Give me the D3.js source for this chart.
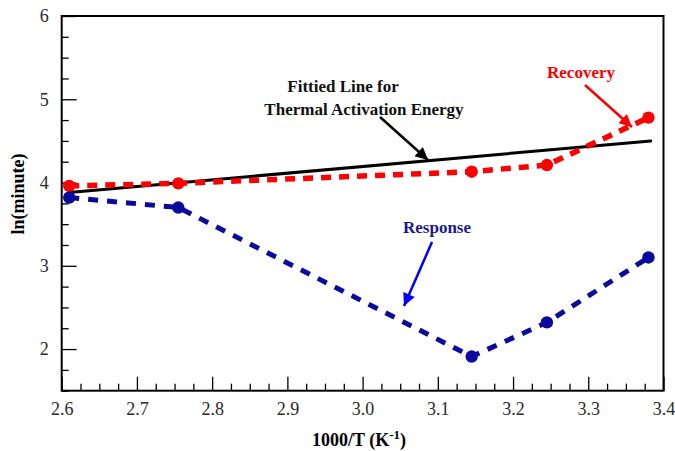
<!DOCTYPE html>
<html><head><meta charset="utf-8">
<script src="https://cdn.jsdelivr.net/npm/d3@7"></script>
<style>body{margin:0;background:#fff}svg{display:block}
.serif, .serif text{font-family:"Liberation Serif","Tinos","DejaVu Serif",serif !important;}
</style>
</head><body>
<svg id="c" width="675" height="451" class="serif"></svg>
<script>
const xVals = [2.61, 2.755, 3.145, 3.245, 3.38];
const recovery = [3.96, 3.99, 4.13, 4.21, 4.78];
const response = [3.82, 3.70, 1.91, 2.32, 3.10];
const fitX = [2.61, 3.383];
const fitY = [3.88, 4.50];
const xTicks = [2.6, 2.7, 2.8, 2.9, 3.0, 3.1, 3.2, 3.3, 3.4];
const yTicks = [2, 3, 4, 5, 6];

const svg = d3.select("#c");
const L = 61.7, R = 663.5, T = 16, B = 390.7;
const x = d3.scaleLinear().domain([2.6, 3.4]).range([L, R]);
const y = d3.scaleLinear().domain([1.5, 6]).range([B, T]);
const font = '"Liberation Serif", "DejaVu Serif", serif';

const xMinor = d3.range(2.6, 3.4001, 0.025).filter(v => Math.abs(v*10 - Math.round(v*10)) > 1e-6);
const yMinor = d3.range(1.5, 6.0001, 0.25).filter(v => Math.abs(v - Math.round(v)) > 1e-6);

const g = svg.append("g");
g.append("g").attr("transform", `translate(0,${B})`)
  .call(d3.axisBottom(x).tickValues(xTicks).tickSize(-14).tickFormat(d3.format(".1f")).tickPadding(12))
  .attr("font-family", font).attr("font-size", 18)
  .call(a => a.select(".domain").remove())
  .call(a => a.selectAll("line").attr("stroke", "#000").attr("stroke-width", 1.3))
  .call(a => a.selectAll("text").attr("fill", "#2a2a2a"));
g.append("g").attr("transform", `translate(0,${B})`)
  .call(d3.axisBottom(x).tickValues(xMinor).tickSize(-7).tickFormat(""))
  .call(a => a.select(".domain").remove())
  .call(a => a.selectAll("line").attr("stroke", "#000").attr("stroke-width", 1.3));
g.append("g").attr("transform", `translate(${L},0)`)
  .call(d3.axisLeft(y).tickValues(yTicks).tickSize(-15).tickFormat(d3.format("d")).tickPadding(13))
  .attr("font-family", font).attr("font-size", 18)
  .call(a => a.select(".domain").remove())
  .call(a => a.selectAll("line").attr("stroke", "#000").attr("stroke-width", 1.3))
  .call(a => a.selectAll("text").attr("fill", "#2a2a2a"));
g.append("g").attr("transform", `translate(${L},0)`)
  .call(d3.axisLeft(y).tickValues(yMinor).tickSize(-7).tickFormat(""))
  .call(a => a.select(".domain").remove())
  .call(a => a.selectAll("line").attr("stroke", "#000").attr("stroke-width", 1.3));

svg.append("rect").attr("x", L).attr("y", T).attr("width", R - L).attr("height", B - T)
  .attr("fill", "none").attr("stroke", "#000").attr("stroke-width", 2);

svg.append("text").attr("x", 359).attr("y", 446).attr("text-anchor", "middle")
  .attr("font-family", font).attr("font-size", 18).attr("font-weight", "bold")
  .html('1000/T (K<tspan dy="-7" font-size="13">-1</tspan><tspan dy="7">)</tspan>');
svg.append("text").attr("transform", "translate(24,194) rotate(-90)").attr("text-anchor", "middle")
  .attr("font-family", font).attr("font-size", 18).attr("font-weight", "bold").text("ln(minute)");

const line = d3.line().x(d => x(d[0])).y(d => y(d[1]));

svg.append("path").datum(fitX.map((v, i) => [v, fitY[i]])).attr("d", line)
  .attr("fill", "none").attr("stroke", "#000").attr("stroke-width", 3).attr("stroke-linecap", "round");

const red = "#ff0000", navy = "#0a0a9e";
svg.append("path").datum(xVals.map((v, i) => [v, recovery[i]])).attr("d", line)
  .attr("fill", "none").attr("stroke", red).attr("stroke-width", 5.5).attr("stroke-dasharray", "10,8");
svg.append("path").datum(xVals.map((v, i) => [v, response[i]])).attr("d", line)
  .attr("fill", "none").attr("stroke", navy).attr("stroke-width", 5).attr("stroke-dasharray", "10,9");
svg.selectAll(".rp").data(xVals.map((v, i) => [v, recovery[i]])).join("circle")
  .attr("cx", d => x(d[0])).attr("cy", d => y(d[1])).attr("r", 6.2).attr("fill", red);
svg.selectAll(".bp").data(xVals.map((v, i) => [v, response[i]])).join("circle")
  .attr("cx", d => x(d[0])).attr("cy", d => y(d[1])).attr("r", 6.2).attr("fill", navy);

const defs = svg.append("defs");
function marker(id, color) {
  defs.append("marker").attr("id", id).attr("viewBox", "0 0 10 10").attr("refX", 10).attr("refY", 5)
    .attr("markerWidth", 6).attr("markerHeight", 5).attr("orient", "auto").attr("markerUnits", "strokeWidth")
    .append("path").attr("d", "M0,0 L10,5 L0,10 z").attr("fill", color);
}
marker("ak", "#000"); marker("ar", red); marker("ab", "#0000ff");
function arrow(x1, y1, x2, y2, color, id) {
  svg.append("line").attr("x1", x1).attr("y1", y1).attr("x2", x2).attr("y2", y2)
    .attr("stroke", color).attr("stroke-width", 2.5).attr("marker-end", `url(#${id})`);
}
arrow(380, 117, 428, 160, "#000", "ak");
arrow(585, 85, 632, 127, red, "ar");
arrow(432, 242, 404, 306, "#0000ff", "ab");

function label(txt, cx, by, color) {
  svg.append("text").attr("x", cx).attr("y", by).attr("text-anchor", "middle")
    .attr("font-family", font).attr("font-size", 17).attr("font-weight", "bold")
    .attr("fill", color).text(txt);
}
label("Fittied Line for", 343, 92, "#111");
label("Thermal Activation Energy", 364, 115, "#111");
label("Recovery", 581, 78, red);
label("Response", 437, 233, "#1a1a8c");
</script>
</body></html>
